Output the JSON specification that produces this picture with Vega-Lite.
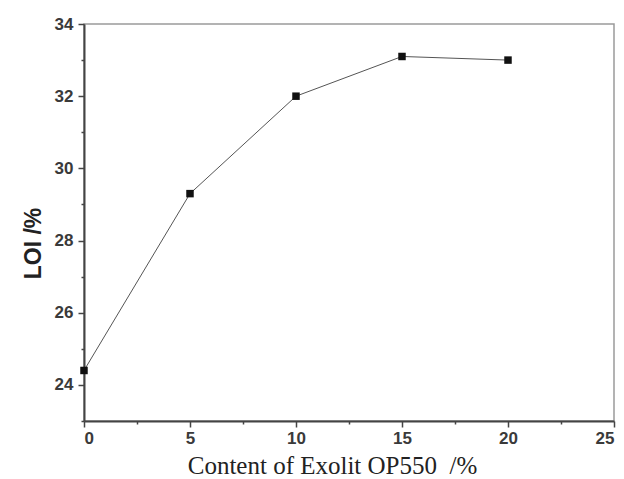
{
  "$schema": "https://vega.github.io/schema/vega-lite/v6.json",
  "autosize": {"type": "none"},
  "padding": {"left": 84, "top": 24, "right": 10, "bottom": 58},
  "width": 530,
  "height": 397,
  "background": "white",
  "config": {
    "view": {"stroke": "#9a9a9a", "strokeWidth": 1.5},
    "axis": {
      "domainColor": "#444",
      "domainWidth": 2,
      "tickColor": "#444",
      "tickWidth": 1.5,
      "grid": false,
      "titleColor": "#222",
      "labelFont": "Liberation Sans",
      "labelFontSize": 17,
      "labelFontWeight": "bold",
      "labelColor": "#3a3a3a",
      "labelOverlap": false
    }
  },
  "data": {
    "values": [
      {"content": 0, "loi": 24.4},
      {"content": 5, "loi": 29.3},
      {"content": 10, "loi": 32.0},
      {"content": 15, "loi": 33.1},
      {"content": 20, "loi": 33.0}
    ]
  },
  "resolve": {"axis": {"x": "independent", "y": "independent"}},
  "layer": [
    {
      "mark": {"type": "line", "color": "#555", "strokeWidth": 1},
      "encoding": {
        "x": {
          "field": "content",
          "type": "quantitative",
          "scale": {"domain": [0, 25], "nice": false},
          "axis": {
            "orient": "bottom",
            "values": [2.5, 7.5, 12.5, 17.5, 22.5],
            "labels": false,
            "domain": false,
            "tickSize": 3,
            "title": null
          }
        },
        "y": {
          "field": "loi",
          "type": "quantitative",
          "scale": {"domain": [23, 34], "nice": false, "zero": false},
          "axis": {
            "orient": "left",
            "values": [23, 25, 27, 29, 31, 33],
            "labels": false,
            "domain": false,
            "tickSize": 3,
            "title": null
          }
        }
      }
    },
    {
      "mark": {"type": "point", "shape": "square", "filled": true, "color": "#111", "size": 56, "opacity": 1},
      "encoding": {
        "x": {
          "field": "content",
          "type": "quantitative",
          "axis": {
            "orient": "bottom",
            "values": [0, 5, 10, 15, 20, 25],
            "tickSize": 6,
            "labelPadding": 3,
            "title": "Content of Exolit OP550\u00a0 /%",
            "titleFont": "Liberation Serif",
            "titleFontSize": 25,
            "titleFontWeight": "normal",
            "titleX": 248,
            "titleY": 52,
            "titleBaseline": "alphabetic"
          }
        },
        "y": {
          "field": "loi",
          "type": "quantitative",
          "axis": {
            "orient": "left",
            "values": [24, 26, 28, 30, 32, 34],
            "tickSize": 6,
            "labelPadding": 5,
            "title": "LOI /%",
            "titleFont": "Liberation Sans",
            "titleFontSize": 23,
            "titleFontWeight": "bold",
            "titleY": 219,
            "titlePadding": 9
          }
        }
      }
    }
  ]
}
